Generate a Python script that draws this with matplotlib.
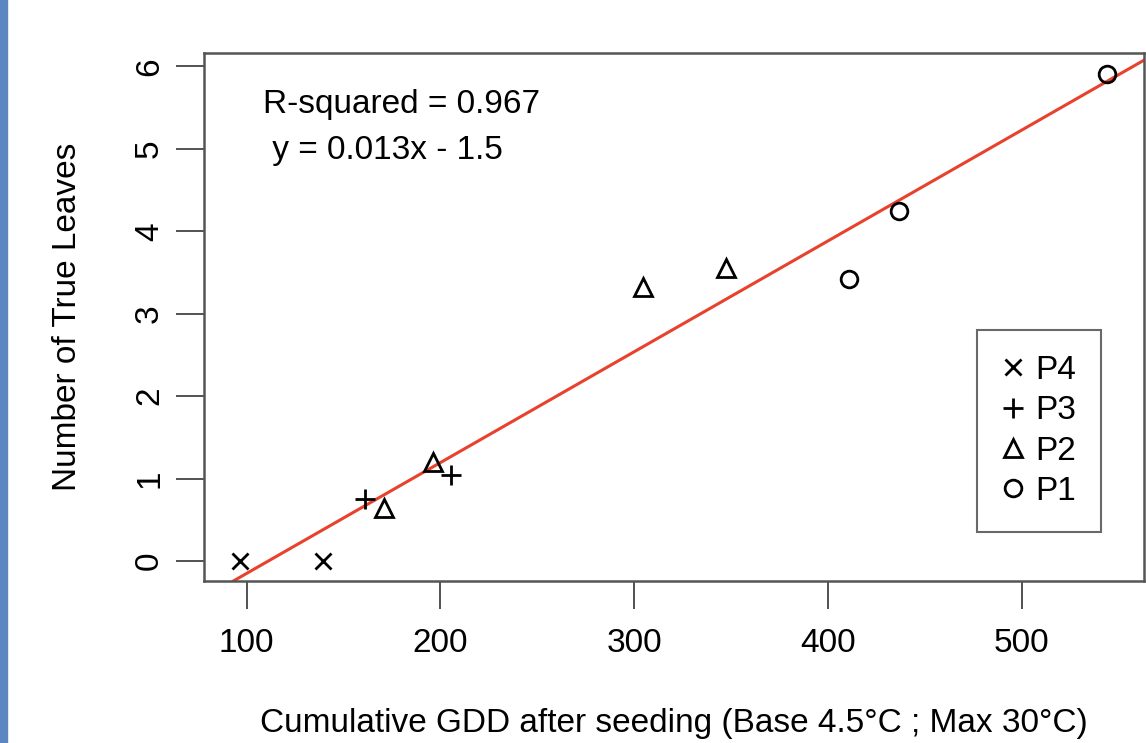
import matplotlib
matplotlib.use("Agg")
import matplotlib.pyplot as plt
import numpy as np
from matplotlib.patches import Rectangle

# leaf counts vs cumulative GDD
p4_gdd = [96.4, 139.6]
p4_leaves = [0.0, 0.0]
p3_gdd = [161.2, 205.4]
p3_leaves = [0.76, 1.04]
p2_gdd = [171.0, 196.0, 304.6, 347.3]
p2_leaves = [0.65, 1.20, 3.32, 3.55]
p1_gdd = [411.0, 436.8, 544.0]
p1_leaves = [3.42, 4.24, 5.90]

groups = ["P4", "P3", "P2", "P1"]
x_ticks = [100, 200, 300, 400, 500]
y_ticks = [0, 1, 2, 3, 4, 5, 6]

plt.rcParams['font.family'] = ['Liberation Sans', 'DejaVu Sans']
fs = 24
W, H = 1146, 743

fig = plt.figure(figsize=(W / 100, H / 100), dpi=100)
fig.patches.append(Rectangle((0, 0), 7 / W, 1, transform=fig.transFigure,
                             color='#5b86c1', zorder=0))

ax = fig.add_axes([204 / W, 1 - 581 / H, 940 / W, 528 / H])

mk = dict(linestyle='none', color='black', markerfacecolor='none',
          markersize=12, markeredgewidth=2.0)
ax.plot(p4_gdd, p4_leaves, marker='x', label=groups[0], **mk)
ax.plot(p3_gdd, p3_leaves, marker='+', label=groups[1], **dict(mk, markersize=15))
ax.plot(p2_gdd, p2_leaves, marker='^', label=groups[2], **dict(mk, markersize=13))
ax.plot(p1_gdd, p1_leaves, marker='o', label=groups[3], **mk)

# regression line over all points
all_x = np.array(p4_gdd + p3_gdd + p2_gdd + p1_gdd)
all_y = np.array(p4_leaves + p3_leaves + p2_leaves + p1_leaves)
slope, icept = np.polyfit(all_x, all_y, 1)
ax.axline((0, icept), slope=slope, color='#e8412c', lw=2.2, zorder=1)

ax.set_xlim(78, 563)
ax.set_ylim(-0.24, 6.16)
ax.set_xticks(x_ticks)
ax.set_yticks(y_ticks)
ax.tick_params(axis='both', length=20, width=1.3, color='#444444',
               labelsize=fs)
ax.tick_params(axis='x', pad=14)
ax.tick_params(axis='y', pad=8)
plt.setp(ax.get_yticklabels(), rotation=90, va='center')
for s in ax.spines.values():
    s.set_color('#555555')
    s.set_linewidth(1.8)

ax.text(108.5, 5.53, "R-squared = 0.967", fontsize=fs, ha='left', va='center')
ax.text(108.5, 4.98, " y = 0.013x - 1.5", fontsize=fs, ha='left', va='center')

ax.set_xlabel("Cumulative GDD after seeding (Base 4.5\u00b0C ; Max 30\u00b0C)",
              fontsize=fs, labelpad=35)
ax.set_ylabel("Number of True Leaves", fontsize=fs, labelpad=37)

leg = ax.legend(loc='lower right', bbox_to_anchor=(1101 / W, 1 - 532 / H),
                bbox_transform=fig.transFigure, fontsize=fs, frameon=True,
                fancybox=False, edgecolor='#444444', handlelength=0.7,
                handletextpad=0.3, labelspacing=0.28, borderpad=0.75,
                borderaxespad=0)
leg.get_frame().set_linewidth(1.5)

fig.savefig("out.png", dpi=100)
